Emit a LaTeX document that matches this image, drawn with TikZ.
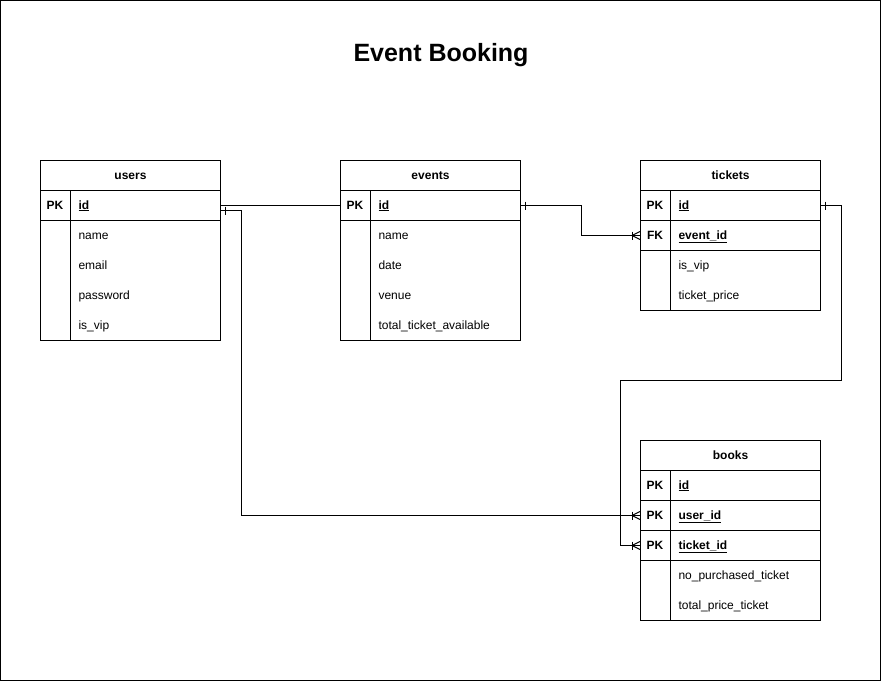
\documentclass[tikz,border=0pt]{standalone}
\usepackage{fontspec}
\setmainfont{Liberation Sans}
\begin{document}
\begin{tikzpicture}[x=1pt,y=-1pt,line width=1pt,
  tbl/.style={draw, minimum width=180pt, inner sep=0pt, anchor=north west},
  rowbox/.style={minimum width=180pt, minimum height=30pt, inner sep=0pt, anchor=north west},
  hdr/.style={font=\bfseries\fontsize{12}{14}\selectfont, inner sep=0pt, anchor=base, yshift=-4pt},
  keylbl/.style={font=\bfseries\fontsize{12}{14}\selectfont, inner sep=0pt, anchor=base, yshift=-4pt},
  fld/.style={font=\fontsize{12}{14}\selectfont, anchor=base west, inner sep=0pt, yshift=-4pt},
  keyfld/.style={fld, font=\bfseries\fontsize{12}{14}\selectfont},
  onemark/.style={line width=1pt},
  manymark/.style={line width=1pt},
]
\useasboundingbox (0,0) rectangle (882,682);
\draw (0.5,0.5) rectangle (880.5,680.5);
\node[font=\bfseries\fontsize{25}{30}\selectfont, anchor=base, inner sep=0pt] (title) at (441,62) {Event Booking};

% ---------- users ----------
\node[tbl, minimum height=180pt] (users) at (40,160) {};
\node[rowbox] (users-h) at (40,160) {};
\node[hdr] at (users-h) {users};
\node[rowbox] (users-id) at (40,190) {};
\draw (40,190) -- (220,190);
\draw (40,220) -- (220,220);
\draw (70,190) -- (70,340);
\node[keylbl] (users-pk) at (55,205) {PK};
\node[keyfld] (users-idt) at (78,205) {\underline{id}};
\node[fld] (users-name) at (78,235) {name};
\node[fld] (users-email) at (78,265) {email};
\node[fld] (users-pw) at (78,295) {password};
\node[fld] (users-vip) at (78,325) {is\_vip};

% ---------- events ----------
\node[tbl, minimum height=180pt] (events) at (340,160) {};
\node[rowbox] (events-h) at (340,160) {};
\node[hdr] at (events-h) {events};
\node[rowbox] (events-id) at (340,190) {};
\draw (340,190) -- (520,190);
\draw (340,220) -- (520,220);
\draw (370,190) -- (370,340);
\node[keylbl] (events-pk) at (355,205) {PK};
\node[keyfld] (events-idt) at (378,205) {\underline{id}};
\node[fld] (events-name) at (378,235) {name};
\node[fld] (events-date) at (378,265) {date};
\node[fld] (events-venue) at (378,295) {venue};
\node[fld] (events-tta) at (378,325) {total\_ticket\_available};

% ---------- tickets ----------
\node[tbl, minimum height=150pt] (tickets) at (640,160) {};
\node[rowbox] (tickets-h) at (640,160) {};
\node[hdr] at (tickets-h) {tickets};
\node[rowbox] (tickets-id) at (640,190) {};
\node[rowbox] (tickets-eid) at (640,220) {};
\draw (640,190) -- (820,190);
\draw (640,220) -- (820,220);
\draw (640,250) -- (820,250);
\draw (670,190) -- (670,310);
\node[keylbl] (tickets-pk) at (655,205) {PK};
\node[keyfld] (tickets-idt) at (678,205) {\underline{id}};
\node[keylbl] (tickets-fk) at (655,235) {FK};
\node[keyfld] (tickets-eidt) at (678,235) {\underline{event\_id}};
\node[fld] (tickets-vip) at (678,265) {is\_vip};
\node[fld] (tickets-price) at (678,295) {ticket\_price};

% ---------- books ----------
\node[tbl, minimum height=180pt] (books) at (640,440) {};
\node[rowbox] (books-h) at (640,440) {};
\node[hdr] at (books-h) {books};
\node[rowbox] (books-id) at (640,470) {};
\node[rowbox] (books-uid) at (640,500) {};
\node[rowbox] (books-tid) at (640,530) {};
\draw (640,470) -- (820,470);
\draw (640,500) -- (820,500);
\draw (640,530) -- (820,530);
\draw (640,560) -- (820,560);
\draw (670,470) -- (670,620);
\node[keylbl] (books-pk1) at (655,485) {PK};
\node[keyfld] (books-idt) at (678,485) {\underline{id}};
\node[keylbl] (books-pk2) at (655,515) {PK};
\node[keyfld] (books-uidt) at (678,515) {\underline{user\_id}};
\node[keylbl] (books-pk3) at (655,545) {PK};
\node[keyfld] (books-tidt) at (678,545) {\underline{ticket\_id}};
\node[fld] (books-npt) at (678,575) {no\_purchased\_ticket};
\node[fld] (books-tpt) at (678,605) {total\_price\_ticket};

% ---------- connectors ----------
\draw (users-id.east) -- (events-id.west);

\coordinate (uA) at ([yshift=-5pt]users-id.east);
\draw (uA) -- ++(20,0) |- (books-uid.west);
\draw[onemark] ([xshift=4pt]uA) ++(0,-4) -- ++(0,8);

\draw (events-id.east) -- ++(60,0) |- (tickets-eid.west);
\draw[onemark] ([xshift=4pt]events-id.east) ++(0,-4) -- ++(0,8);

\coordinate (tbend) at (620,380);
\draw (tickets-id.east) -- ++(20,0) |- (tbend) |- (books-tid.west);
\draw[onemark] ([xshift=4pt]tickets-id.east) ++(0,-4) -- ++(0,8);

% many markers
\foreach \t in {tickets-eid, books-uid, books-tid}{
  \draw[manymark] ([xshift=-8pt]\t.west) ++(0,-4) -- ++(0,8);
  \draw[manymark] ([yshift=4pt]\t.west) -- ([xshift=-8pt]\t.west) -- ([yshift=-4pt]\t.west);
}
\end{tikzpicture}
\end{document}
